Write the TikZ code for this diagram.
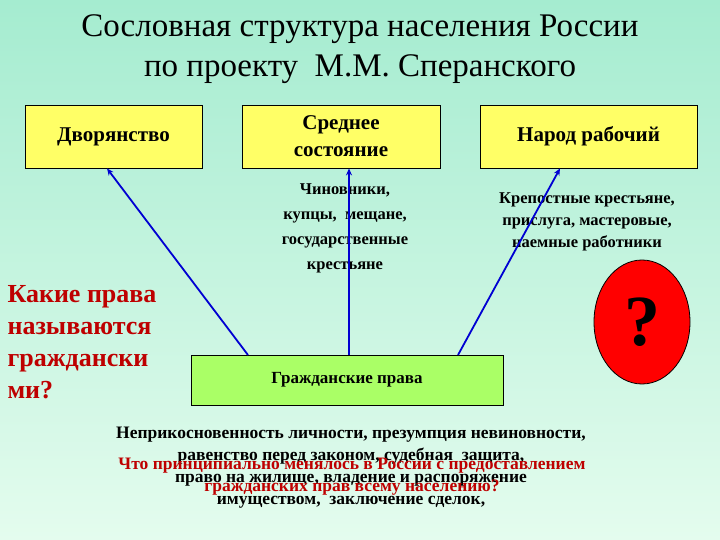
\documentclass[tikz,border=0pt]{standalone}
\usepackage{fontspec}
\setmainfont[Script=Cyrillic]{Liberation Serif}
\usetikzlibrary{shapes.geometric,arrows.meta}
\definecolor{bgtop}{RGB}{165,236,208}
\definecolor{bgbot}{RGB}{228,252,238}
\definecolor{boxy}{RGB}{255,255,102}
\definecolor{boxg}{RGB}{170,255,102}
\definecolor{darkred}{RGB}{190,0,0}
\definecolor{arr}{RGB}{0,0,210}
\tikzset{
  estate/.style={draw=black, fill=boxy, line width=0.8pt, align=center, font=\bfseries\fontsize{21}{27}\selectfont},
  desc/.style={align=center, font=\bfseries\fontsize{16.5}{25}\selectfont},
  link/.style={draw=arr, line width=1.8pt, -{Stealth[length=7pt,width=6pt]}}
}
\begin{document}
\begin{tikzpicture}[x=1pt,y=-1pt]
\shade[top color=bgtop, bottom color=bgbot] (0,0) rectangle (720,540);
\useasboundingbox (0,0) rectangle (720,540);
\node[font=\fontsize{33}{40}\selectfont, align=center] (title) at (360,49) {Сословная структура населения России\\по проекту \ М.М. Сперанского};
\node[estate, minimum width=177pt, minimum height=63pt] (dv) at (113.5,136.5) {Дворянство};
\node[estate, minimum width=198pt, minimum height=63pt] (sr) at (341,136.5) {Среднее\\состояние};
\node[estate, minimum width=217pt, minimum height=63pt] (nr) at (588.5,136.5) {Народ рабочий};
\node[desc] (d1) at (345,228) {Чиновники,\\купцы, \ мещане,\\государственные\\крестьяне};
\node[desc, font=\bfseries\fontsize{16.5}{22}\selectfont] (d2) at (587,222) {Крепостные крестьяне,\\прислуга, мастеровые,\\наемные работники};
\node[draw=black, fill=boxg, line width=0.8pt, minimum width=312pt, minimum height=50pt, font=\bfseries\fontsize{17}{20}\selectfont] (gp) at (347,380) {Гражданские права};
\coordinate (s1) at (248,355);
\coordinate (s2) at (349,355);
\coordinate (s3) at (458,355);
\draw[link] (s1) -- (dv.south -| 107,0);
\draw[link] (s2) -- (sr.south -| 349,0);
\draw[link] (s3) -- (nr.south -| 560,0);
\node[anchor=north west, align=left, text=darkred, font=\bfseries\fontsize{26}{32}\selectfont] (q1) at (4,282) {Какие права\\называются\\граждански\\ми?};
\node[ellipse, draw=black, fill=red, line width=0.8pt, minimum width=96pt, minimum height=124pt, inner sep=0pt, font=\bfseries\fontsize{72}{72}\selectfont] (qm) at (642,322) {?};
\node[desc, font=\bfseries\fontsize{17.5}{22}\selectfont] (rights) at (351,468) {Неприкосновенность личности, презумпция невиновности,\\равенство перед законом, судебная \ защита,\\право на жилище, владение и распоряжение\\имуществом, \ заключение сделок,};
\node[align=center, text=darkred, font=\bfseries\fontsize{17.5}{22}\selectfont] (q2) at (352,477) {Что принципиально менялось в России с предоставлением\\гражданских прав всему населению?};
\end{tikzpicture}
\end{document}
